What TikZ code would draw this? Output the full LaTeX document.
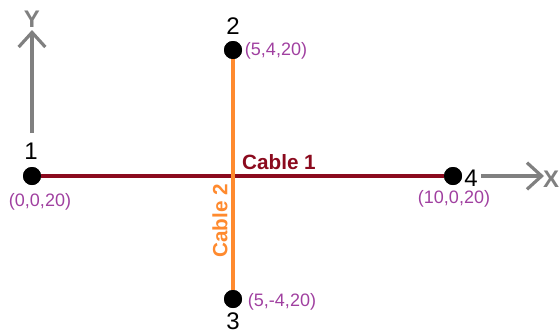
\documentclass[tikz,border=0pt]{standalone}
\usepackage{fontspec}
\setmainfont{Liberation Sans}
\usetikzlibrary{arrows.meta,positioning}
\definecolor{cabone}{HTML}{8B0A1E}
\definecolor{cabtwo}{HTML}{FF8A2E}
\definecolor{coordclr}{HTML}{A040A0}
\definecolor{axisclr}{HTML}{808080}
\begin{document}
\begin{tikzpicture}[x=0.75pt, y=-0.75pt, joint/.style={circle, fill=black, inner sep=0pt, minimum size=13.5pt}, num/.style={font=\fontsize{18}{18}\selectfont, inner sep=1pt}, crd/.style={text=coordclr, font=\fontsize{13.5}{14}\selectfont, inner sep=1pt}, axis/.style={axisclr, line width=2.4pt, -{Straight Barb[length=11pt, width=20pt, line width=2.4pt]}}, axlab/.style={text=axisclr, font=\bfseries\fontsize{18}{18}\selectfont, inner sep=0pt}]
    \useasboundingbox (0,0) rectangle (560,333);
    % joints
    \node[joint] (n1) at (32,176) {};
    \node[joint] (n2) at (233,50) {};
    \node[joint] (n3) at (233,299) {};
    \node[joint] (n4) at (453,176) {};
    % cables
    \draw[cabone, line width=2.5pt] (n1) -- (n4);
    \draw[cabtwo, line width=2.5pt] (n2) -- (n3);
    \node[joint] at (n1) {};
    \node[joint] at (n2) {};
    \node[joint] at (n3) {};
    \node[joint] at (n4) {};
    \node[text=cabone, font=\bfseries\fontsize{15.5}{16}\selectfont] (c1) at (279,162) {Cable 1};
    \node[text=cabtwo, font=\bfseries\fontsize{15.5}{16}\selectfont, rotate=90] (c2) at (220,221) {Cable 2};
    % numbers
    \node[num] (l1) at (31,151) {1};
    \node[num] (l2) at (233,26) {2};
    \node[num] (l3) at (233,321) {3};
    \node[num] (l4) at (471,178) {4};
    % coordinates
    \node[crd] (p1) at (40,202) {(0,0,20)};
    \node[crd] (p2) at (276,51) {(5,4,20)};
    \node[crd] (p3) at (282,302) {(5,-4,20)};
    \node[crd] (p4) at (454,199) {(10,0,20)};
    % axes
    \node[axlab] (ylab) at (32,19) {Y};
    \node[axlab] (xlab) at (551,179) {X};
    \coordinate (yfoot) at (32,133);
    \coordinate (xfoot) at (481,176);
    \draw[axis] (yfoot) -- (32,30);
    \draw[axis] (xfoot) -- (544,176);
\end{tikzpicture}
\end{document}
